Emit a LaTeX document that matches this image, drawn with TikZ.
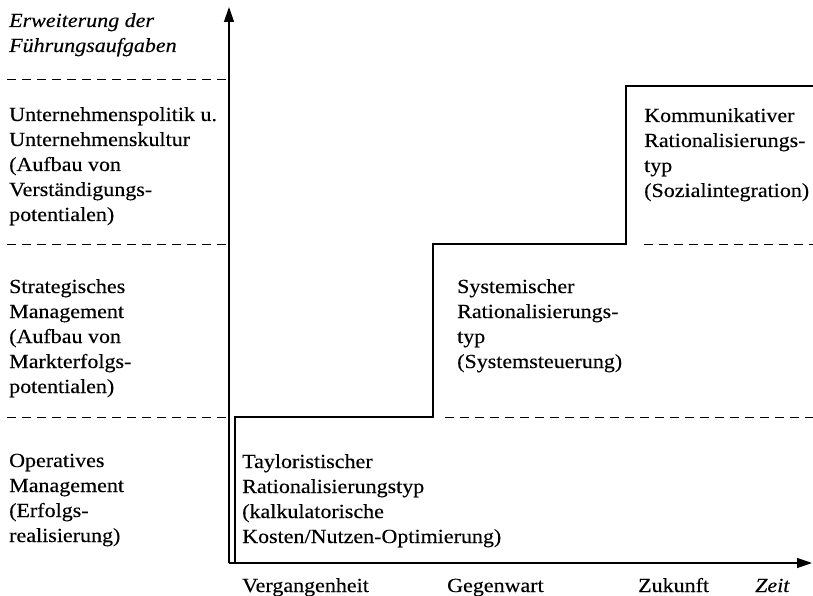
\documentclass[tikz,border=0pt]{standalone}
\usepackage{fontspec}
\setmainfont[FakeStretch=1.1,FakeBold=0.3]{Liberation Serif}
\usetikzlibrary{arrows.meta}
\tikzset{
  lbl/.style={anchor=base west, inner sep=0pt, font=\fontsize{20}{25}\selectfont},
  axis/.style={line width=1.3pt, -{Triangle[length=15pt,width=10pt]}},
  stepline/.style={line width=1.3pt},
  guide/.style={line width=1pt, dash pattern=on 9pt off 6pt},
}
\newcommand{\blk}[1]{\begin{tabular}[t]{@{}l@{}}#1\end{tabular}}
\begin{document}
\begin{tikzpicture}[x=1pt,y=-1pt]
\useasboundingbox (0,0) rectangle (813,596);
% axes
\coordinate (o) at (229,563);
\coordinate (ytip) at (229,7);
\coordinate (xtip) at (812,563);
\draw[axis] (o) -- (ytip);
\draw[axis] (o) -- (xtip);
% staircase
\coordinate (s0) at (235,563);
\coordinate (s1) at (235,417);
\coordinate (s2) at (433,417);
\coordinate (s3) at (433,244);
\coordinate (s4) at (626,244);
\coordinate (s5) at (626,86);
\coordinate (s6) at (813,86);
\draw[stepline] (s0) -- (s1) -- (s2) -- (s3) -- (s4) -- (s5) -- (s6);
% dashed guides
\coordinate (d1a) at (7,80);   \coordinate (d1b) at (229,80);
\coordinate (d2a) at (7,244);  \coordinate (d2b) at (229,244);
\coordinate (d3a) at (7,417);  \coordinate (d3b) at (229,417);
\coordinate (d4a) at (644,244); \coordinate (d4b) at (813,244);
\coordinate (d5a) at (445,417); \coordinate (d5b) at (813,417);
\draw[guide] (d1a) -- (d1b);
\draw[guide] (d2a) -- (d2b);
\draw[guide] (d3a) -- (d3b);
\draw[guide] (d4a) -- (d4b);
\draw[guide] (d5a) -- (d5b);
% texts
\node[lbl] (ytitle) at (9,27) {\blk{\itshape Erweiterung der\\\itshape F\"uhrungsaufgaben}};
\node[lbl] (l1) at (9,121) {\blk{Unternehmenspolitik u.\\Unternehmenskultur\\(Aufbau von\\Verst\"andigungs-\\potentialen)}};
\node[lbl] (l2) at (9,293) {\blk{Strategisches\\Management\\(Aufbau von\\Markterfolgs-\\potentialen)}};
\node[lbl] (l3) at (9,467) {\blk{Operatives\\Management\\(Erfolgs-\\realisierung)}};
\node[lbl] (t1) at (242,468) {\blk{Tayloristischer\\Rationalisierungstyp\\(kalkulatorische\\Kosten/Nutzen-Optimierung)}};
\node[lbl] (t2) at (457,293) {\blk{Systemischer\\Rationalisierungs-\\typ\\(Systemsteuerung)}};
\node[lbl] (t3) at (644,122) {\blk{Kommunikativer\\Rationalisierungs-\\typ\\(Sozialintegration)}};
\node[lbl] (x1) at (242,592) {Vergangenheit};
\node[lbl] (x2) at (447,592) {Gegenwart};
\node[lbl] (x3) at (638,592) {Zukunft};
\node[lbl] (x4) at (755,592) {\itshape Zeit};
\end{tikzpicture}
\end{document}
